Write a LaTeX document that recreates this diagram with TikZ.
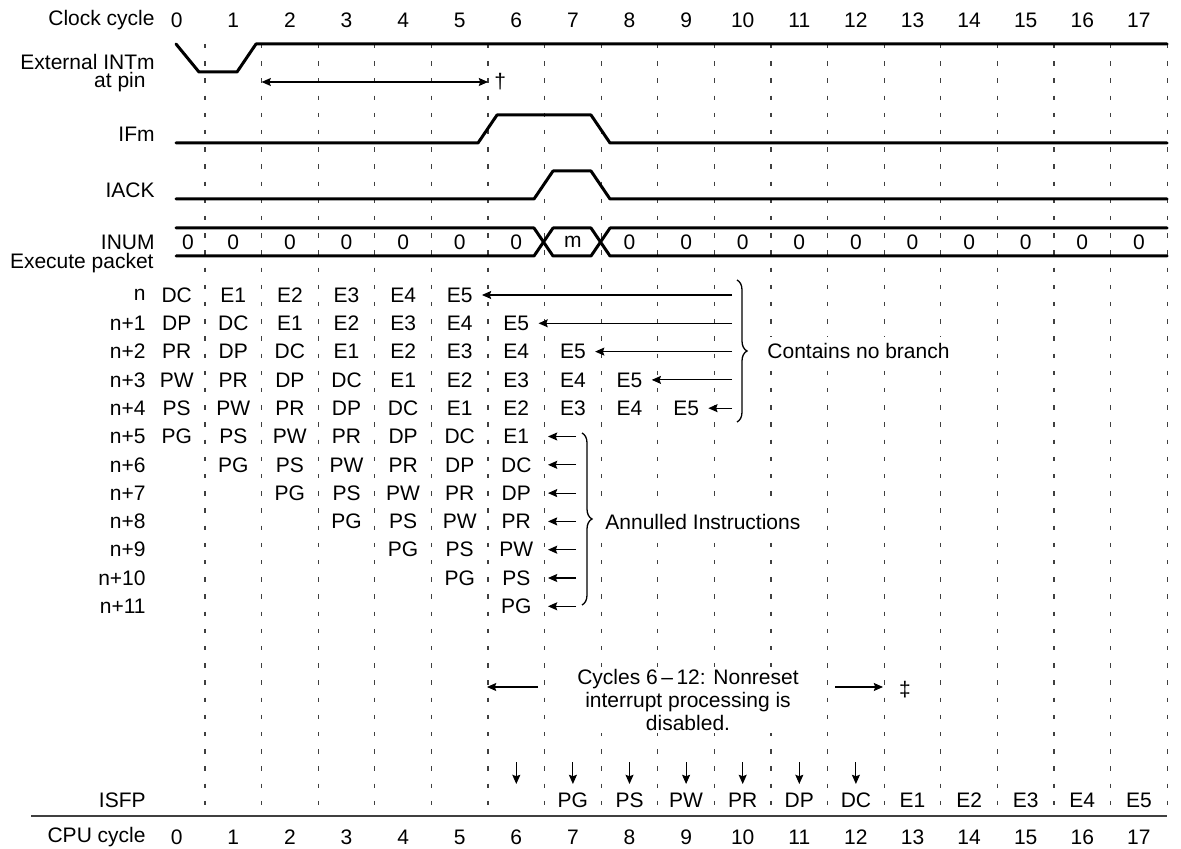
\documentclass[tikz,border=0pt]{standalone}
\usepackage{fontspec}
\setmainfont{Liberation Sans}
\usetikzlibrary{arrows.meta,decorations.pathreplacing}

\begin{document}
\begin{tikzpicture}[x=0.5pt, y=-0.5pt, >={Stealth[length=4.6pt,width=4pt,inset=0.7pt]},
        font=\fontsize{10.5}{11.5}\selectfont,
        sig/.style={line width=1.5pt, line join=round, line cap=round},
        grid/.style={black!75, line width=0.6pt, dash pattern=on 2.2pt off 6.4pt},
        lbl/.style={anchor=east, inner sep=1pt},
        cell/.style={inner sep=1pt},
        note/.style={anchor=west, fill=white, inner sep=3pt},
        pointer/.style={->, line width=0.55pt},
        curly/.style={decorate, decoration={brace, amplitude=5pt}, line width=0.65pt}]
    \useasboundingbox[fill=white] (0,0) rectangle (1181,849);

    % Cycle grid
    \foreach \k in {0,...,17} {
            \draw[grid] ({205+56.6*\k},44) -- ({205+56.6*\k},814);
        }
    \draw[black!75, line width=0.8pt] (31,816) -- (1167,816);
    \node[lbl] (clk) at (157,20) {Clock cycle};
    \node[lbl] (cpu) at (148,837) {CPU cycle};
    \foreach \k in {0,...,17} {
            \node[cell] (top\k) at ({176.7+56.6*\k},20) {\k};
            \node[cell] (bot\k) at ({176.7+56.6*\k},837) {\k};
        }

    % Signals
    \node[lbl] (ext) at (157,62) {External INTm};
    \node[lbl] (pin) at (148,82) {at pin};
    \draw[sig] (176,44) -- (199,72) -- (237,72) -- (256,44) -- (1167,44);
    \coordinate (intA) at (261.6,82);
    \coordinate (intB) at (488,82);
    \draw[<->, line width=0.55pt] (intA) -- (intB);
    \node[cell, anchor=west] (dag) at (492,82) {†};

    \node[lbl] (ifm) at (157,134) {IFm};
    \draw[sig] (176,143) -- (478,143) -- (497,115) -- (591,115) -- (610,143) -- (1167,143);
    \node[lbl] (iack) at (157,190) {IACK};
    \draw[sig] (176,199) -- (534,199) -- (553,171) -- (591,171) -- (610,199) -- (1167,199);

    % INUM bus
    \node[lbl] (inum) at (157,242) {INUM};
    \node[lbl] (pkt) at (156,263) {Execute packet};
    \draw[sig] (176,228) -- (534,228) -- (553,256) -- (591,256) -- (610,228) -- (1167,228);
    \draw[sig] (176,256) -- (534,256) -- (553,228) -- (591,228) -- (610,256) -- (1167,256);
    \node[cell] (v0) at (188,242) {0};
    \foreach \k in {1,...,17} {
            \ifnum\k=7 \def\v{m}\else \def\v{0}\fi
            \node[cell] (v\k) at ({176.7+56.6*\k},242) {\v};
        }

    % Execute packets n ... n+11
    \foreach \i in {0,...,11} {
            \ifnum\i=0 \def\rl{n}\else \def\rl{n+\i}\fi
            \node[lbl] (row\i) at (148,{295+28.3*\i}) {\rl};
            \foreach \st [count=\s from 0] in {PG,PS,PW,PR,DP,DC,E1,E2,E3,E4,E5} {
                    \pgfmathtruncatemacro\k{\i+\s-5}
                    \pgfmathtruncatemacro\shown{and(\k>=0, or(\i<5, \k<7))}
                    \ifnum\shown=1
                        \node[cell] (e\i-\k) at ({176.7+56.6*\k},{295+28.3*\i}) {\st};
                    \fi
                }
        }

    % No branch
    \foreach \i in {0,...,4} {
            \pgfmathtruncatemacro\k{\i+5}
            \coordinate (nb\i) at (732,{295+28.3*\i});
            \draw[pointer, shorten >=3.5pt] (nb\i) -- (e\i-\k.east);
        }
    \draw[curly] (737,280) -- (737,422);
    \node[note] (nobranch) at (761,351) {Contains no branch};

    % Annulled
    \coordinate (antip) at (548,522);
    \foreach \i in {5,...,11} {
            \coordinate (an\i) at (576,{295+28.3*\i});
            \draw[pointer] (an\i) -- (e\i-6.east -| antip);
        }
    \draw[curly] (582,433) -- (582,605);
    \node[note] (annul) at (599,522) {Annulled Instructions};

    % Interrupts disabled
    \node[fill=white, inner sep=1pt, align=center] (disabled) at (688,700)
        {Cycles 6\,--\,12: Nonreset\\interrupt processing is\\disabled.};
    \coordinate (disA) at (538,687);
    \coordinate (disB) at (487,687);
    \coordinate (disC) at (835,687);
    \coordinate (disD) at (883,687);
    \draw[pointer] (disA) -- (disB);
    \draw[pointer] (disC) -- (disD);
    \node[cell] (ddag) at (905,690) {‡};

    % ISFP
    \node[lbl] (isfp) at (148,800) {ISFP};
    \foreach \k in {6,...,12} {
            \coordinate (up\k) at ({176.7+56.6*\k},762);
            \coordinate (dn\k) at ({176.7+56.6*\k},784);
            \draw[pointer] (up\k) -- (dn\k);
        }
    \foreach \st [count=\s from 7] in {PG,PS,PW,PR,DP,DC,E1,E2,E3,E4,E5} {
            \node[cell] (f\s) at ({176.7+56.6*\s},800) {\st};
        }
\end{tikzpicture}
\end{document}
